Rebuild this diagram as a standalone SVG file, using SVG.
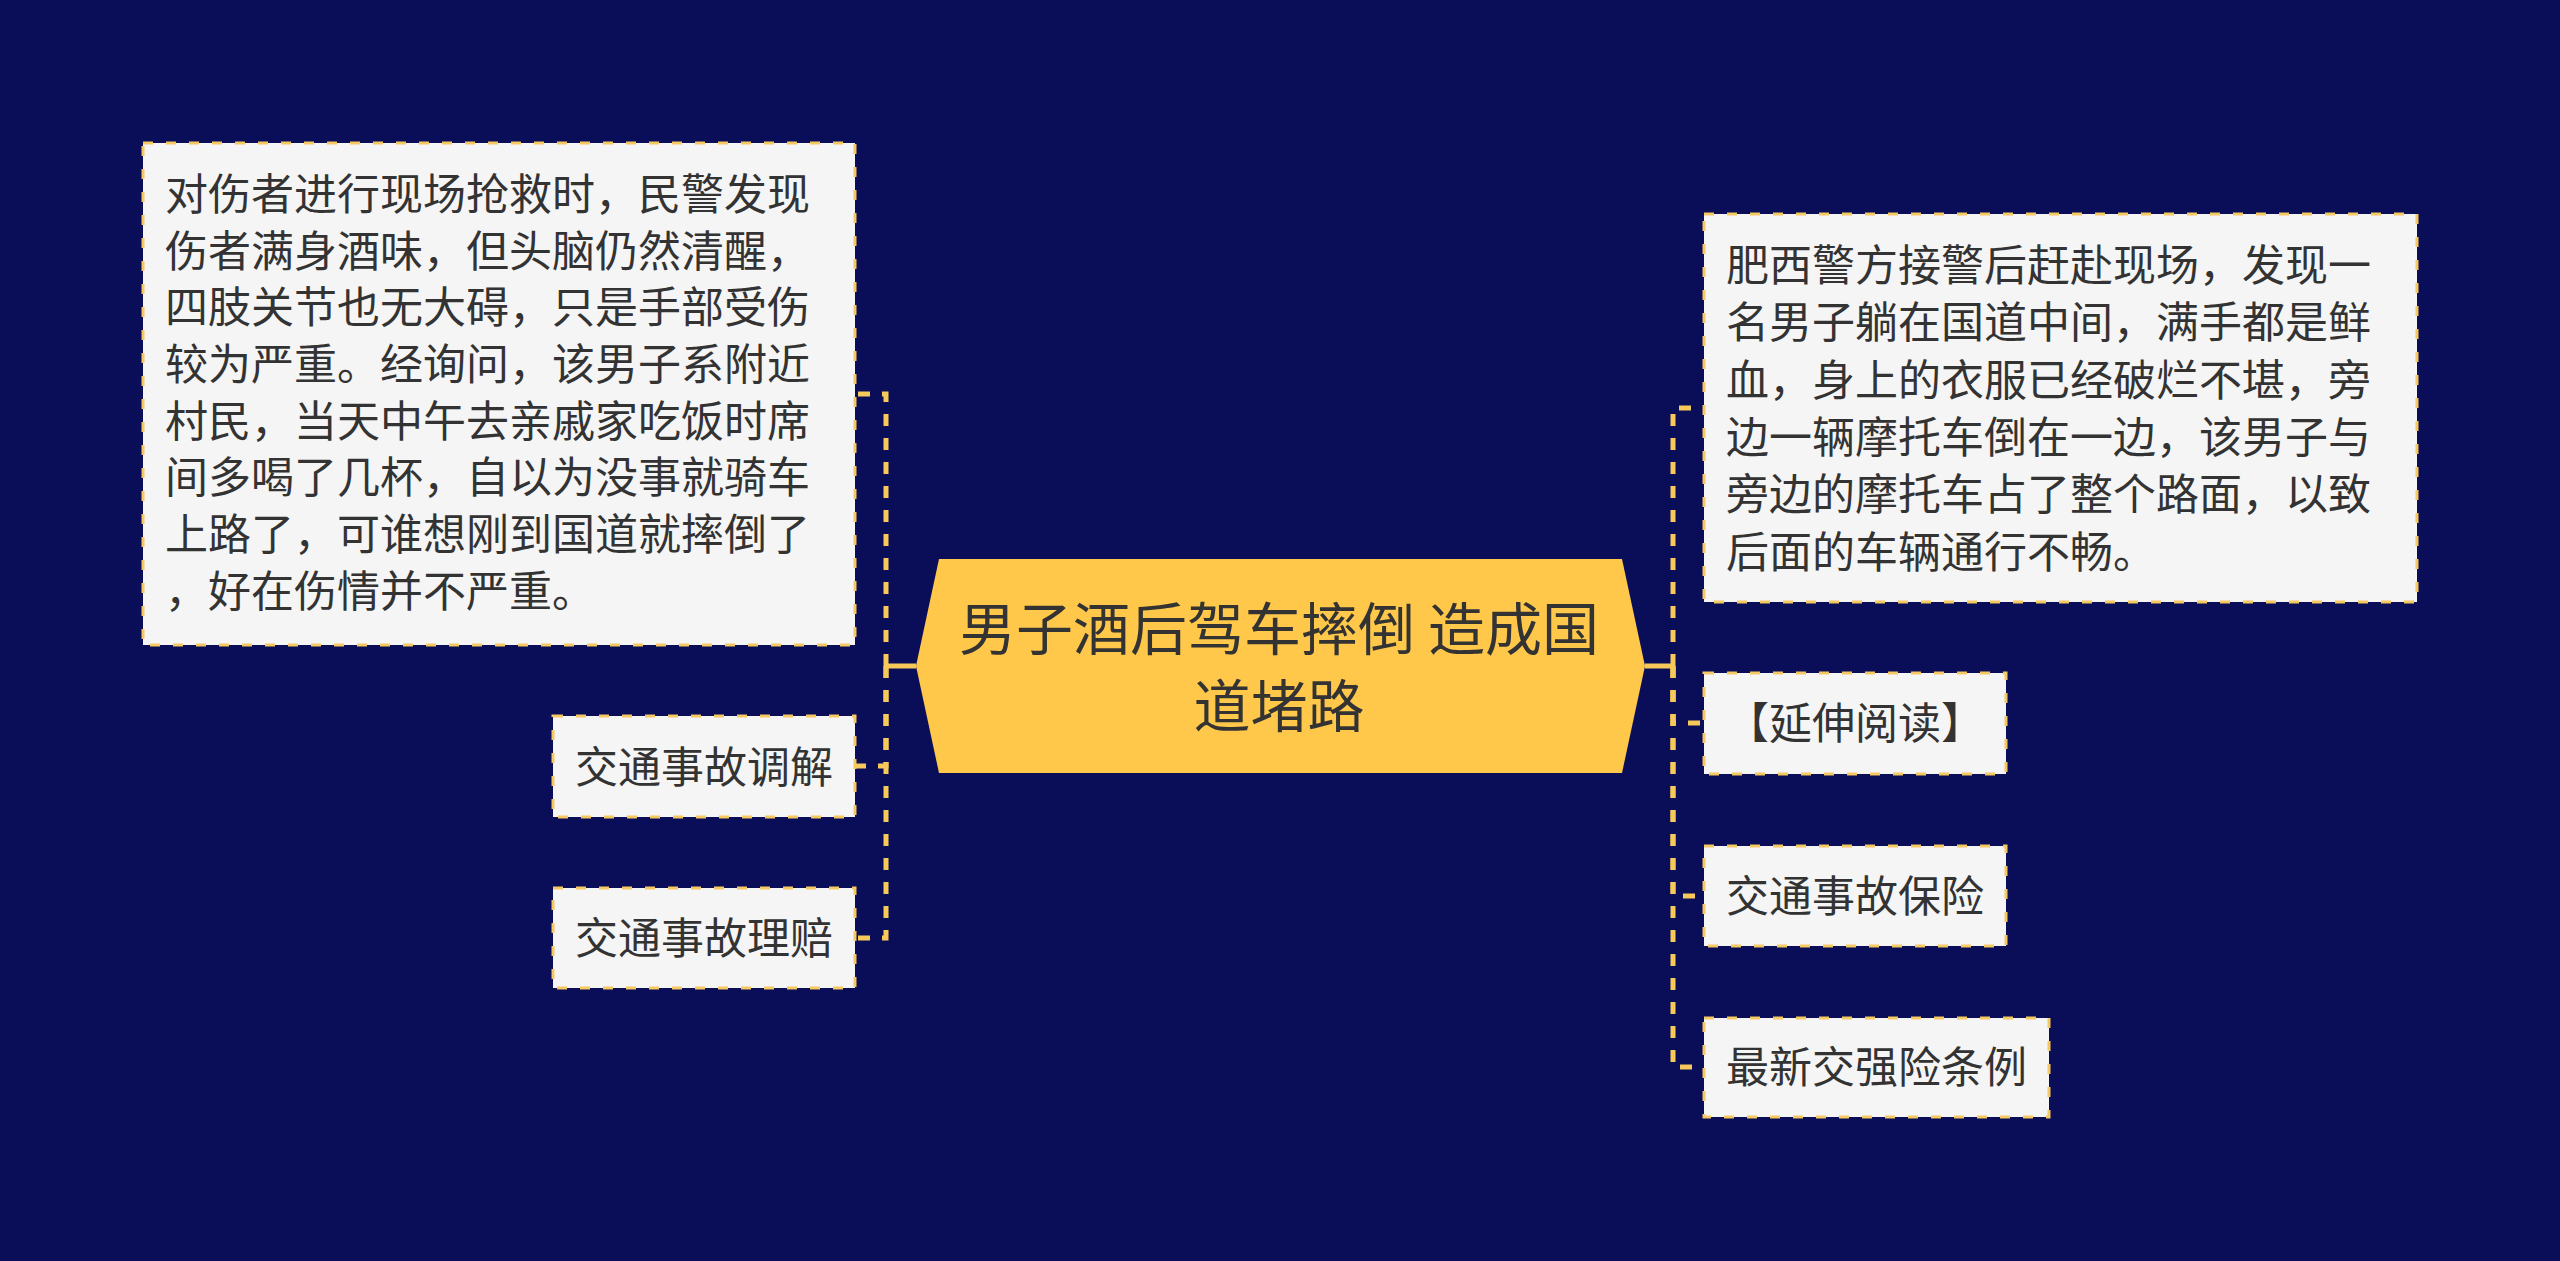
<svg xmlns="http://www.w3.org/2000/svg" width="2560" height="1261" viewBox="0 0 2560 1261">
<style>
.bg{fill:#0A0E58}
.box{fill:#F5F5F5;stroke:#F5C862;stroke-width:3;stroke-dasharray:10 13}
.t{font-family:"Noto Sans CJK SC","Noto Sans",sans-serif;font-size:43px;fill:#333333}
.tc{text-anchor:middle}
.main{fill:#FFC84A}
.mt{font-family:"Noto Sans CJK SC","Noto Sans",sans-serif;font-size:57px;fill:#333333;text-anchor:middle}
.c{fill:none;stroke:#F7C95A;stroke-width:5;stroke-dasharray:12 12}
.s{fill:none;stroke:#F7C95A;stroke-width:5}
</style>
<rect class="bg" x="0" y="0" width="2560" height="1261"/>
<g id="connectors">
<path class="s" d="M916 666 H886 M1645 666 H1673"/>
<path class="c" d="M886 666 V394 H855"/>
<path class="c" d="M886 666 V766 H855"/>
<path class="c" d="M886 666 V938 H855"/>
<path class="c" d="M1673 666 V408 H1704"/>
<path class="c" d="M1673 666 V723 H1704"/>
<path class="c" d="M1673 666 V896 H1704"/>
<path class="c" d="M1673 666 V1067 H1704"/>
</g>
<g id="center">
<polygon class="main" points="939,559 1622,559 1645,666 1622,773 939,773 916,666"/>
<text class="mt" x="1279" y="650">男子酒后驾车摔倒 造成国</text>
<text class="mt" x="1279" y="727">道堵路</text>
</g>
<g id="left-detail">
<rect class="box" x="143" y="143" width="712" height="502"/>
<text class="t" x="165">
<tspan x="165" y="210">对伤者进行现场抢救时，民警发现</tspan>
<tspan x="165" y="267">伤者满身酒味，但头脑仍然清醒，</tspan>
<tspan x="165" y="323">四肢关节也无大碍，只是手部受伤</tspan>
<tspan x="165" y="380">较为严重。经询问，该男子系附近</tspan>
<tspan x="165" y="437">村民，当天中午去亲戚家吃饭时席</tspan>
<tspan x="165" y="493">间多喝了几杯，自以为没事就骑车</tspan>
<tspan x="165" y="550">上路了，可谁想刚到国道就摔倒了</tspan>
<tspan x="165" y="607">，好在伤情并不严重。</tspan>
</text>
</g>
<g id="left-mediation">
<rect class="box" x="553" y="716" width="302" height="101"/>
<text class="t tc" x="704" y="783">交通事故调解</text>
</g>
<g id="left-claims">
<rect class="box" x="553" y="888" width="302" height="100"/>
<text class="t tc" x="704" y="954">交通事故理赔</text>
</g>
<g id="right-detail">
<rect class="box" x="1704" y="214" width="713" height="388"/>
<text class="t" x="1726">
<tspan x="1726" y="281">肥西警方接警后赶赴现场，发现一</tspan>
<tspan x="1726" y="338">名男子躺在国道中间，满手都是鲜</tspan>
<tspan x="1726" y="396">血，身上的衣服已经破烂不堪，旁</tspan>
<tspan x="1726" y="453">边一辆摩托车倒在一边，该男子与</tspan>
<tspan x="1726" y="510">旁边的摩托车占了整个路面，以致</tspan>
<tspan x="1726" y="568">后面的车辆通行不畅。</tspan>
</text>
</g>
<g id="right-reading">
<rect class="box" x="1704" y="673" width="302" height="101"/>
<text class="t tc" x="1855" y="739">【延伸阅读】</text>
</g>
<g id="right-insurance">
<rect class="box" x="1704" y="846" width="302" height="100"/>
<text class="t tc" x="1855" y="912">交通事故保险</text>
</g>
<g id="right-rules">
<rect class="box" x="1704" y="1018" width="345" height="99"/>
<text class="t tc" x="1876.5" y="1083">最新交强险条例</text>
</g>
</svg>
